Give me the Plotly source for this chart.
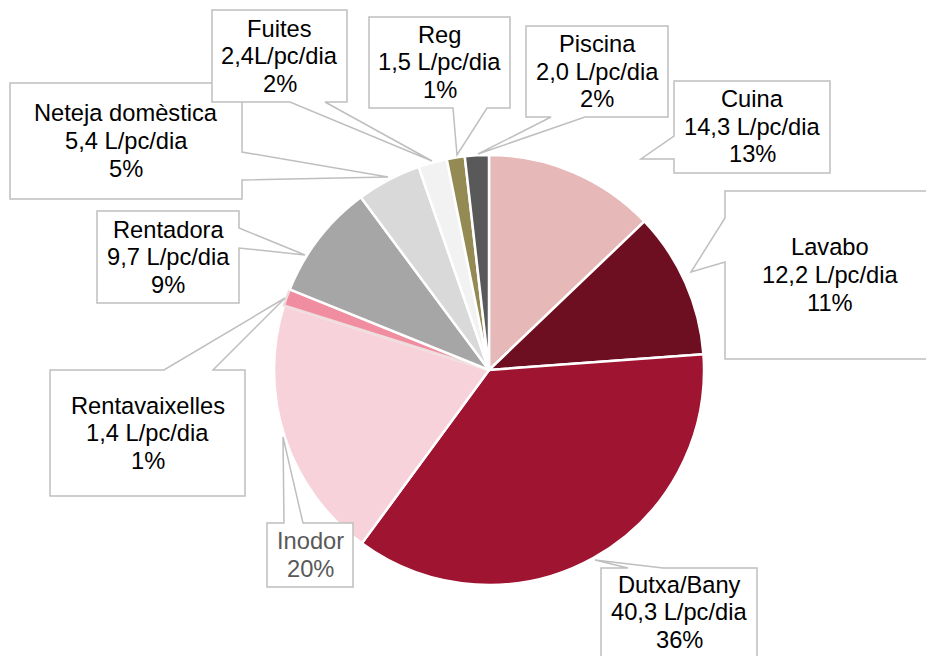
import plotly.graph_objects as go

# ---- data ----
categories = ["Cuina", "Lavabo", "Dutxa/Bany", "Inodor", "Rentavaixelles",
              "Rentadora", "Neteja domèstica", "Fuites", "Reg", "Piscina"]
values = [14.3, 12.2, 40.3, 22.0, 1.4, 9.7, 5.4, 2.4, 1.5, 2.0]
show_value = [True, True, True, False, True, True, True, True, True, True]
unit_labels = [" L/pc/dia"] * 7 + ["L/pc/dia", " L/pc/dia", " L/pc/dia"]

# ---- styles ----
slice_colors = ["#E6B8B7", "#6E0E21", "#9E1431", "#F8D2DA", "#F08DA0",
                "#A6A6A6", "#D9D9D9", "#F2F2F2", "#948A54", "#595959"]
slice_line_colors = ["#FFFFFF"] * 4 + ["#EEDDDD"] + ["#FFFFFF"] * 5
text_colors = ["#000000"] * 3 + ["#595959"] + ["#000000"] * 6

W, H = 926, 656
CX, CY, R = 489, 370, 215

# callout geometry in pixels: box (x0,y0,x1,y1), wedge side, wedge base coords, tip
callouts = {
    "Neteja domèstica": ((10, 83, 242, 199), "right", (152, 180), (388, 177)),
    "Fuites": ((212, 10, 347, 102), "bottom", (290, 325), (432, 161)),
    "Reg": ((369, 17, 510, 108), "bottom", (453, 487), (457, 155)),
    "Piscina": ((526, 26, 668, 117), "bottom", (551, 585), (478, 154)),
    "Cuina": ((674, 81, 830, 173), "left", (136, 159), (641, 159)),
    "Lavabo": ((725, 191, 935, 359), "left", (218, 262), (691, 272)),
    "Dutxa/Bany": ((601, 568, 757, 670), "top", (628, 663), (595, 560)),
    "Inodor": ((267, 523, 353, 587), "top", (284, 303), (283, 437)),
    "Rentavaixelles": ((50, 370, 245, 496), "top", (164, 213), (285, 298)),
    "Rentadora": ((97, 211, 239, 303), "right", (228, 248), (305, 255)),
}
draw_order = ["Neteja domèstica", "Fuites", "Reg", "Piscina", "Cuina", "Lavabo",
              "Dutxa/Bany", "Inodor", "Rentavaixelles", "Rentadora"]


def px(x):
    return x / W


def py(y):
    return 1 - y / H


def callout_path(box, side, base, tip):
    x0, y0, x1, y1 = box
    a, b = sorted(base)
    tx, ty = tip
    pts = [(x0, y0)]
    if side == "top":
        pts += [(a, y0), (tx, ty), (b, y0)]
    pts += [(x1, y0)]
    if side == "right":
        pts += [(x1, a), (tx, ty), (x1, b)]
    pts += [(x1, y1)]
    if side == "bottom":
        pts += [(b, y1), (tx, ty), (a, y1)]
    pts += [(x0, y1)]
    if side == "left":
        pts += [(x0, b), (tx, ty), (x0, a)]
    return "M " + " L ".join(f"{px(x):.5f},{py(y):.5f}" for x, y in pts) + " Z"


total = sum(values)

fig = go.Figure()
fig.add_trace(go.Pie(
    labels=categories,
    values=values,
    sort=False,
    direction="clockwise",
    rotation=0,
    marker=dict(colors=slice_colors,
                line=dict(color=slice_line_colors, width=2.5)),
    textinfo="none",
    textposition="none",
    hoverinfo="skip",
    showlegend=False,
    domain=dict(x=[px(CX - R), px(CX + R)], y=[py(CY + R), py(CY - R)]),
))

shapes = []
annotations = []
FONT = "Liberation Sans, Arial, sans-serif"
FS = 23.7
LINE = 27.5
for name in draw_order:
    i = categories.index(name)
    box, side, base, tip = callouts[name]
    shapes.append(dict(type="path", xref="paper", yref="paper",
                       path=callout_path(box, side, base, tip),
                       fillcolor="white", line=dict(color="#BFBFBF", width=1.5),
                       layer="above"))
    pct = round(values[i] / total * 100)
    lines = [name]
    if show_value[i]:
        lines.append(f"{values[i]:.1f}".replace(".", ",") + unit_labels[i])
    lines.append(f"{pct}%")
    x0, y0, x1, y1 = box
    if name == "Dutxa/Bany":
        y1 = 656
    cxb = (x0 + x1) / 2
    cyb = (y0 + y1) / 2
    n = len(lines)
    for k, t in enumerate(lines):
        yy = cyb + (k - (n - 1) / 2) * LINE
        annotations.append(dict(x=px(cxb), y=py(yy), xref="paper", yref="paper",
                                text=t, showarrow=False, xanchor="center",
                                yanchor="middle",
                                font=dict(family=FONT, size=FS, color=text_colors[i])))

fig.update_layout(
    width=W, height=H,
    margin=dict(l=0, r=0, t=0, b=0),
    paper_bgcolor="white",
    plot_bgcolor="white",
    shapes=shapes,
    annotations=annotations,
    showlegend=False,
)

fig.write_html("out.html",
               config={"displayModeBar": False},
               post_script="document.body.style.margin='0';document.body.style.overflow='hidden';")
